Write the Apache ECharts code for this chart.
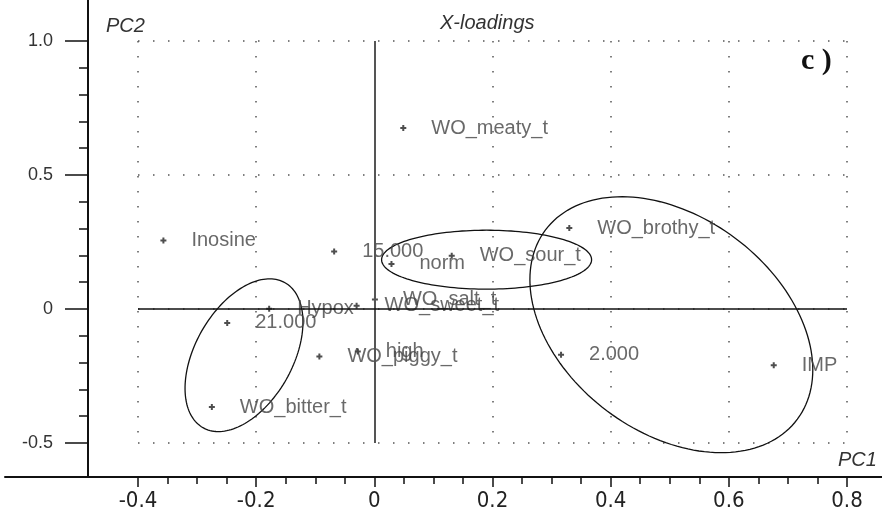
<!DOCTYPE html>
<html>
<head>
<meta charset="utf-8">
<script src="https://cdn.jsdelivr.net/npm/echarts@6/dist/echarts.min.js"></script>
<style>
  html, body { margin: 0; padding: 0; background: #fff; }
  #main { width: 882px; height: 516px; }
</style>
</head>
<body>
<div id="main"></div>
<script>
// X-loadings, PC1 / PC2
const names = ['WO_meaty_t', 'Inosine', '15.000', 'norm', 'WO_sour_t', 'WO_salt_t', 'WO_sweet_t',
  'Hypox', '21.000', 'WO_bitter_t', 'WO_piggy_t', 'high', 'WO_brothy_t', '2.000', 'IMP'];
const pc1 = [0.049, -0.357, -0.068, 0.029, 0.131, 0.001, -0.030, -0.178, -0.249, -0.275, -0.093, -0.028, 0.330, 0.316, 0.676];
const pc2 = [0.675, 0.256, 0.215, 0.168, 0.199, 0.035, 0.012, 0.001, -0.052, -0.366, -0.177, -0.159, 0.302, -0.171, -0.210];

// ellipses: centre + two conjugate half axes (PC units)
const ellipseCentre = [[-0.2206, -0.1724], [0.190, 0.184], [0.5027, -0.0586]];
const ellipseAxisA = [[0.0694, 0.2705], [0.1777, 0], [0.2394, -0.168]];
const ellipseAxisB = [[0.0717, -0.0896], [0, 0.110], [0, 0.447]];

const xTicks = [-0.4, -0.2, 0, 0.2, 0.4, 0.6, 0.8];
const xTickLabels = ['-0.4', '-0.2', '0', '0.2', '0.4', '0.6', '0.8'];
const yTicks = [-0.5, 0, 0.5, 1.0];
const yTickLabels = ['-0.5', '0', '0.5', '1.0'];

function tickLabel(ticks, labels) {
  return function (v) {
    const i = ticks.findIndex(t => Math.abs(t - v) < 1e-6);
    return i < 0 ? '' : labels[i];
  };
}

const dotted = { type: [1.5, 13.5], color: '#555', width: 1.5 };
const tickStyle = { color: '#111', width: 1.5 };
const labelFont = 'Liberation Sans';

const chart = echarts.init(document.getElementById('main'));

chart.setOption({
  animation: false,
  backgroundColor: '#fff',
  grid: [
    { left: 138, right: 35, top: 41, bottom: 73 },
    { left: 88, right: 0, top: 0, bottom: 39 },
    { left: 5, right: 0, top: 0, bottom: 39 }
  ],
  xAxis: [
    {
      gridIndex: 0, type: 'value', min: -0.4, max: 0.8, interval: 0.2,
      position: 'bottom', offset: 34,
      axisLine: { show: false, onZero: false },
      axisTick: { show: true, length: 10, lineStyle: tickStyle },
      minorTick: { show: true, splitNumber: 4, length: 7, lineStyle: tickStyle },
      axisLabel: {
        margin: 13, color: '#222', fontSize: 22,
        fontFamily: "'Liberation Sans Narrow', 'DejaVu Sans Condensed', 'Liberation Sans'",
        formatter: tickLabel(xTicks, xTickLabels)
      },
      splitLine: { show: true, lineStyle: dotted }
    },
    { gridIndex: 1, type: 'value', show: false },
    {
      gridIndex: 2, type: 'value', min: 0, max: 1,
      axisLine: { show: true, onZero: false, lineStyle: { color: '#111', width: 2 } },
      axisTick: { show: false }, axisLabel: { show: false }, splitLine: { show: false }
    }
  ],
  yAxis: [
    {
      gridIndex: 0, type: 'value', min: -0.5, max: 1.0, interval: 0.5,
      position: 'left', offset: 50,
      axisLine: { show: false, onZero: false },
      axisTick: { show: true, length: 23, lineStyle: tickStyle },
      minorTick: { show: true, splitNumber: 5, length: 9, lineStyle: tickStyle },
      axisLabel: {
        margin: 35, color: '#333', fontSize: 18, fontFamily: labelFont,
        formatter: tickLabel(yTicks, yTickLabels)
      },
      splitLine: { show: true, lineStyle: dotted }
    },
    {
      gridIndex: 1, type: 'value', min: 0, max: 1,
      axisLine: { show: true, onZero: false, lineStyle: { color: '#111', width: 2 } },
      axisTick: { show: false }, axisLabel: { show: false }, splitLine: { show: false }
    },
    { gridIndex: 2, type: 'value', show: false }
  ],
  graphic: [
    { type: 'text', left: 440, top: 13, style: { text: 'X-loadings', fill: '#333', font: 'italic 20px "Liberation Sans"' } },
    { type: 'text', left: 106, top: 16, style: { text: 'PC2', fill: '#333', font: 'italic 20px "Liberation Sans"' } },
    { type: 'text', left: 838, top: 450, style: { text: 'PC1', fill: '#333', font: 'italic 20px "Liberation Sans"' } },
    { type: 'text', left: 801, top: 46, style: { text: 'c )', fill: '#111', font: 'bold 30px "Liberation Serif"' } }
  ],
  series: [
    {
      type: 'custom',
      xAxisIndex: 0, yAxisIndex: 0,
      clip: false,
      silent: true,
      data: ellipseCentre.map((c, i) => [c[0], c[1], ellipseAxisA[i][0], ellipseAxisA[i][1], ellipseAxisB[i][0], ellipseAxisB[i][1]]),
      renderItem: function (params, api) {
        const cx = api.value(0), cy = api.value(1);
        const ax = api.value(2), ay = api.value(3), bx = api.value(4), by = api.value(5);
        const pts = [];
        for (let k = 0; k < 160; k++) {
          const t = 2 * Math.PI * k / 160;
          pts.push(api.coord([cx + ax * Math.cos(t) + bx * Math.sin(t), cy + ay * Math.cos(t) + by * Math.sin(t)]));
        }
        return { type: 'polygon', shape: { points: pts }, style: { fill: 'none', stroke: '#111', lineWidth: 1.3 } };
      }
    },
    {
      type: 'scatter',
      xAxisIndex: 0, yAxisIndex: 0,
      clip: false,
      symbol: 'path://M2,0L4,0L4,2L6,2L6,4L4,4L4,6L2,6L2,4L0,4L0,2L2,2Z',
      symbolSize: 6,
      itemStyle: { color: '#222' },
      data: names.map((n, i) => ({ name: n, value: [pc1[i], pc2[i]] })),
      label: {
        show: true, position: 'right', distance: 25, formatter: '{b}',
        color: '#444', fontSize: 20, fontFamily: labelFont
      },
      markLine: {
        silent: true,
        symbol: ['none', 'none'],
        label: { show: false },
        data: [
          { xAxis: 0, lineStyle: { type: 'solid', color: '#555', width: 2 } },
          { yAxis: 0, lineStyle: { type: 'solid', color: '#111', width: 1.5 } }
        ]
      }
    }
  ]
});
</script>
</body>
</html>
